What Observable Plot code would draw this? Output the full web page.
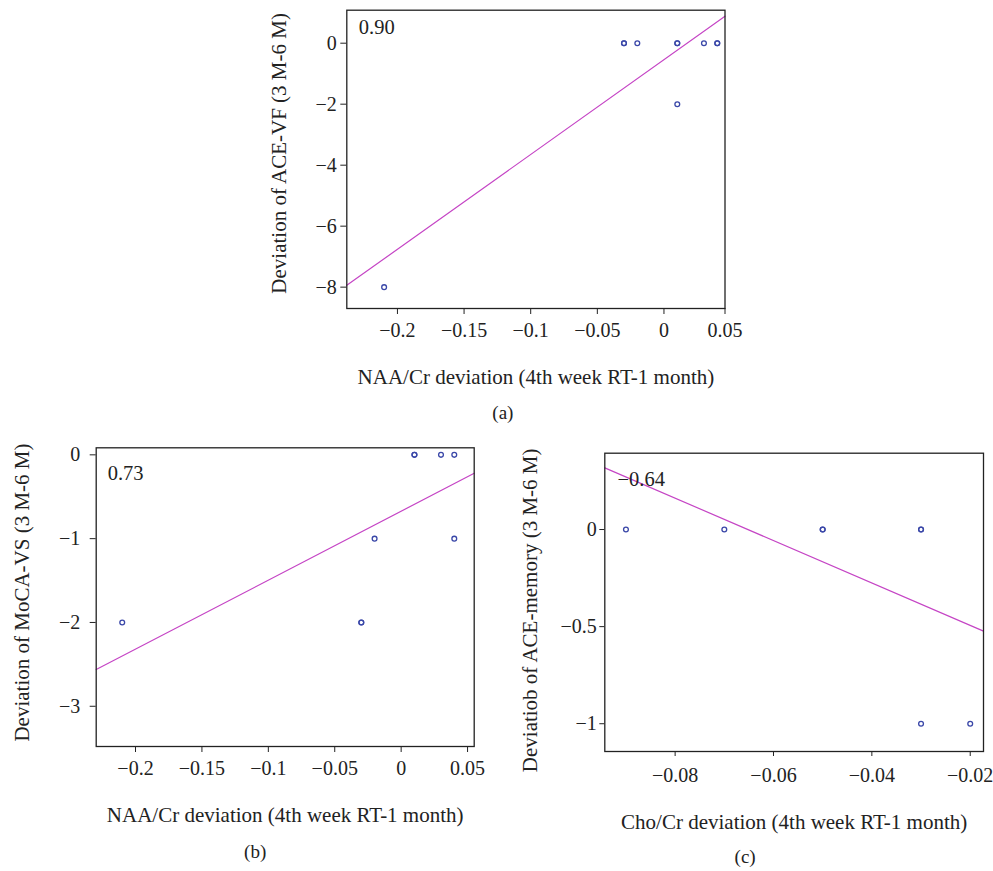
<!DOCTYPE html>
<html>
<head>
<meta charset="utf-8">
<script src="https://cdn.jsdelivr.net/npm/d3@7"></script>
<script src="https://cdn.jsdelivr.net/npm/@observablehq/plot@0.6"></script>
<style>
  html, body { margin: 0; padding: 0; background: #fff; }
  #page { position: relative; width: 993px; height: 871px; background: #fff; overflow: hidden; }
  .panel { position: absolute; }
</style>
</head>
<body>
<div id="page"></div>
<script>
// ---------- Panel (a) data ----------
const aX = [-0.21, -0.03, -0.03, -0.02, 0.01, 0.01, 0.01, 0.03, 0.04, 0.04];
const aY = [-8, 0, 0, 0, 0, 0, -2, 0, 0, 0];
const aFitX = [-0.238, 0.0458];
const aFitY = [-7.94, 0.885];
const aXTicks = [-0.2, -0.15, -0.1, -0.05, 0, 0.0458];
const aXTickLabels = ["−0.2", "−0.15", "−0.1", "−0.05", "0", "0.05"];
const aYTicks = [0, -2, -4, -6, -8];
const aCoef = "0.90";

// ---------- Panel (b) data ----------
const bX = [-0.21, -0.03, -0.03, -0.02, 0.01, 0.01, 0.03, 0.04, 0.04];
const bY = [-2, -2, -2, -1, 0, 0, 0, 0, -1];
const bFitX = [-0.2296, 0.055];
const bFitY = [-2.562, -0.22];
const bXTicks = [-0.2, -0.15, -0.1, -0.05, 0, 0.05];
const bYTicks = [0, -1, -2, -3];
const bCoef = "0.73";

// ---------- Panel (c) data ----------
const cX = [-0.09, -0.07, -0.05, -0.05, -0.03, -0.03, -0.03, -0.02];
const cY = [0, 0, 0, 0, 0, 0, -1, -1];
const cFitX = [-0.0943, -0.0173];
const cFitY = [0.3175, -0.523];
const cXTicks = [-0.08, -0.06, -0.04, -0.02];
const cYTicks = [0, -0.5, -1];
const cCoef = "−0.64";

const FONT = "Liberation Serif, Times New Roman, serif";
const PT = "#3a47a8";
const LINE = "#c545c5";
const fmt = d3.format("~g");

function panel(cfg) {
  const pts = cfg.x.map((x, i) => ({x, y: cfg.y[i]}));
  const fit = cfg.fitX.map((x, i) => ({x, y: cfg.fitY[i]}));
  const svg = Plot.plot({
    width: cfg.width, height: cfg.height,
    marginLeft: cfg.ml, marginRight: cfg.mr, marginTop: cfg.mt, marginBottom: cfg.mb,
    style: {fontFamily: FONT, fontSize: "20px", color: "#222", background: "#fff", overflow: "visible"},
    x: {domain: cfg.xDomain, ticks: cfg.xTicks, tickFormat: cfg.xFmt || fmt, tickSize: cfg.xTickSize, tickPadding: cfg.xPad, label: null},
    y: {domain: cfg.yDomain, ticks: cfg.yTicks, tickFormat: fmt, tickSize: cfg.yTickSize, tickPadding: cfg.yPad, label: null},
    marks: [
      Plot.line(fit, {x: "x", y: "y", stroke: LINE, strokeWidth: 1.2}),
      Plot.dot(pts, {x: "x", y: "y", r: 2.4, stroke: PT, strokeWidth: 1.3, fill: "none"}),
      Plot.frame({stroke: "#222", strokeWidth: 1.3}),
      Plot.text([cfg.coef], {frameAnchor: "top-left", textAnchor: "start", lineAnchor: "middle", dx: cfg.coefDx, dy: cfg.coefDy, fontSize: 20.5, fill: "#222"}),
      Plot.text([cfg.xTitle], {frameAnchor: "bottom", textAnchor: "middle", lineAnchor: "middle", dy: cfg.xTitleDy, fontSize: 21, fill: "#222"}),
      Plot.text([cfg.yTitle], {frameAnchor: "left", textAnchor: "middle", lineAnchor: "middle", rotate: -90, dx: cfg.yTitleDx, dy: cfg.yTitleDy, fontSize: 21, fill: "#222"}),
      Plot.text([cfg.caption], {frameAnchor: "bottom", textAnchor: "middle", lineAnchor: "middle", dx: cfg.capDx, dy: cfg.capDy, fontSize: 19, fill: "#222"})
    ]
  });
  const div = document.createElement("div");
  div.className = "panel";
  div.style.left = cfg.left + "px";
  div.style.top = cfg.top + "px";
  div.appendChild(svg);
  document.getElementById("page").appendChild(div);
}

panel({
  left: 256, top: 0, width: 490, height: 425,
  ml: 90.3, mr: 21.5, mt: 9.7, mb: 117,
  x: aX, y: aY, fitX: aFitX, fitY: aFitY,
  xDomain: [-0.238, 0.0458], yDomain: [-8.7, 1.082],
  xTicks: aXTicks, xFmt: (d) => aXTickLabels[aXTicks.indexOf(d)],
  yTicks: aYTicks, xTickSize: 6, xPad: 8, yTickSize: 6, yPad: 4,
  coef: aCoef, coefDx: 12, coefDy: 17,
  xTitle: "NAA/Cr deviation (4th week RT-1 month)", xTitleDy: 69,
  yTitle: "Deviation of ACE-VF (3 M-6 M)", yTitleDx: -68, yTitleDy: -6,
  caption: "(a)", capDx: -33, capDy: 104
});

panel({
  left: 0, top: 430, width: 490, height: 441,
  ml: 95.7, mr: 16.3, mt: 17.3, mb: 125,
  x: bX, y: bY, fitX: bFitX, fitY: bFitY,
  xDomain: [-0.2296, 0.055], yDomain: [-3.48, 0.084],
  xTicks: bXTicks, xFmt: null,
  yTicks: bYTicks, xTickSize: 6, xPad: 8, yTickSize: 6, yPad: 10,
  coef: bCoef, coefDx: 11.5, coefDy: 26,
  xTitle: "NAA/Cr deviation (4th week RT-1 month)", xTitleDy: 69,
  yTitle: "Deviation of MoCA-VS (3 M-6 M)", yTitleDx: -73.7, yTitleDy: -4.6,
  caption: "(b)", capDx: -30, capDy: 105
});

panel({
  left: 500, top: 430, width: 493, height: 441,
  ml: 104.3, mr: 10, mt: 22.7, mb: 120,
  x: cX, y: cY, fitX: cFitX, fitY: cFitY,
  xDomain: [-0.0943, -0.0173], yDomain: [-1.143, 0.393],
  xTicks: cXTicks, xFmt: null,
  yTicks: cYTicks, xTickSize: 5, xPad: 11, yTickSize: 5, yPad: 3,
  coef: cCoef, coefDx: 12.7, coefDy: 26,
  xTitle: "Cho/Cr deviation (4th week RT-1 month)", xTitleDy: 71,
  yTitle: "Deviatiob of ACE-memory (3 M-6 M)", yTitleDx: -74.3, yTitleDy: 8,
  caption: "(c)", capDx: -49, capDy: 105
});
</script>
</body>
</html>
